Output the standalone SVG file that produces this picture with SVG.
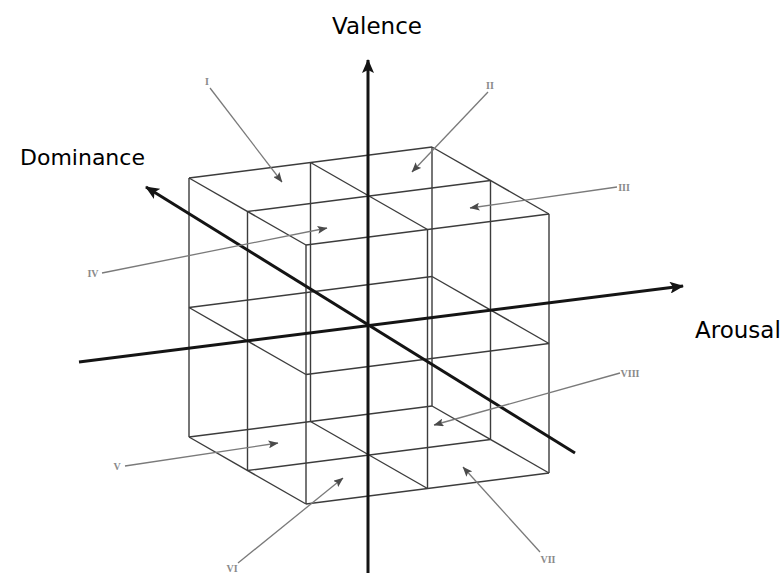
<svg xmlns="http://www.w3.org/2000/svg" width="784" height="573" viewBox="0 0 784 573">
<style>
.cube line{stroke:#3c3c3c;stroke-width:1.4;fill:none}
.axis{stroke:#141414;stroke-width:3;fill:none}
.call{stroke:#7a7a7a;stroke-width:1.3;fill:none}
.lbl{font-family:"DejaVu Sans",sans-serif;font-size:23px;fill:#000}
.rn{font-family:"Liberation Serif",serif;font-size:10px;fill:#8a8a8a;font-weight:bold}
</style>
<defs>
<marker id="ah" viewBox="0 0 14 12" refX="13" refY="6" markerWidth="14" markerHeight="12" markerUnits="userSpaceOnUse" orient="auto">
<path d="M0,0 L14,6 L0,12 L3,6 Z" fill="#141414"/>
</marker>
<marker id="ch" viewBox="0 0 10 8" refX="9.5" refY="4" markerWidth="10" markerHeight="8" markerUnits="userSpaceOnUse" orient="auto">
<path d="M0,0 L10,4 L0,8 L2,4 Z" fill="#4a4a4a"/>
</marker>
</defs>
<rect width="784" height="573" fill="#fff"/>
<g id="cube" class="cube">
<line x1="189" y1="178" x2="432" y2="147"/>
<line x1="247.5" y1="211.5" x2="490.5" y2="180.5"/>
<line x1="306" y1="245" x2="549" y2="214"/>
<line x1="189" y1="307.5" x2="432" y2="276.5"/>
<line x1="306" y1="374.5" x2="549" y2="343.5"/>
<line x1="189" y1="437" x2="432" y2="406"/>
<line x1="247.5" y1="470.5" x2="490.5" y2="439.5"/>
<line x1="306" y1="504" x2="549" y2="473"/>
<line x1="189" y1="178" x2="306" y2="245"/>
<line x1="310.5" y1="162.5" x2="427.5" y2="229.5"/>
<line x1="432" y1="147" x2="549" y2="214"/>
<line x1="189" y1="307.5" x2="306" y2="374.5"/>
<line x1="432" y1="276.5" x2="549" y2="343.5"/>
<line x1="189" y1="437" x2="306" y2="504"/>
<line x1="310.5" y1="421.5" x2="427.5" y2="488.5"/>
<line x1="432" y1="406" x2="549" y2="473"/>
<line x1="189" y1="178" x2="189" y2="437"/>
<line x1="247.5" y1="211.5" x2="247.5" y2="470.5"/>
<line x1="306" y1="245" x2="306" y2="504"/>
<line x1="310.5" y1="162.5" x2="310.5" y2="421.5"/>
<line x1="427.5" y1="229.5" x2="427.5" y2="488.5"/>
<line x1="432" y1="147" x2="432" y2="406"/>
<line x1="490.5" y1="180.5" x2="490.5" y2="439.5"/>
<line x1="549" y1="214" x2="549" y2="473"/>
</g>
<g id="connectors">
<line class="axis" x1="368" y1="573" x2="368" y2="60" marker-end="url(#ah)"/>
<line class="axis" x1="79" y1="362" x2="683" y2="286" marker-end="url(#ah)"/>
<line class="axis" x1="575" y1="453" x2="146" y2="187" marker-end="url(#ah)"/>
<line class="call" x1="210" y1="88" x2="282" y2="182" marker-end="url(#ch)"/>
<line class="call" x1="488" y1="92" x2="412" y2="172" marker-end="url(#ch)"/>
<line class="call" x1="617" y1="187" x2="470" y2="208" marker-end="url(#ch)"/>
<line class="call" x1="102" y1="273" x2="327" y2="228" marker-end="url(#ch)"/>
<line class="call" x1="125" y1="466" x2="278" y2="443" marker-end="url(#ch)"/>
<line class="call" x1="238" y1="563" x2="343" y2="478" marker-end="url(#ch)"/>
<line class="call" x1="540" y1="552" x2="463" y2="467" marker-end="url(#ch)"/>
<line class="call" x1="620" y1="373" x2="434" y2="425" marker-end="url(#ch)"/>
</g>
<g id="axis-labels">
<text id="valence" class="lbl" x="377" y="34" text-anchor="middle">Valence</text>
<text id="dominance" class="lbl" x="20" y="165" style="font-size:22px">Dominance</text>
<text id="arousal" class="lbl" x="695" y="338">Arousal</text>
</g>
<g id="region-labels">
<text id="r1" class="rn" x="207" y="85" text-anchor="middle">I</text>
<text id="r2" class="rn" x="490" y="89" text-anchor="middle">II</text>
<text id="r3" class="rn" x="624" y="191" text-anchor="middle">III</text>
<text id="r4" class="rn" x="93" y="277" text-anchor="middle">IV</text>
<text id="r5" class="rn" x="117" y="470" text-anchor="middle">V</text>
<text id="r6" class="rn" x="232" y="572" text-anchor="middle">VI</text>
<text id="r7" class="rn" x="548" y="563" text-anchor="middle">VII</text>
<text id="r8" class="rn" x="630" y="377" text-anchor="middle">VIII</text>
</g>
</svg>
